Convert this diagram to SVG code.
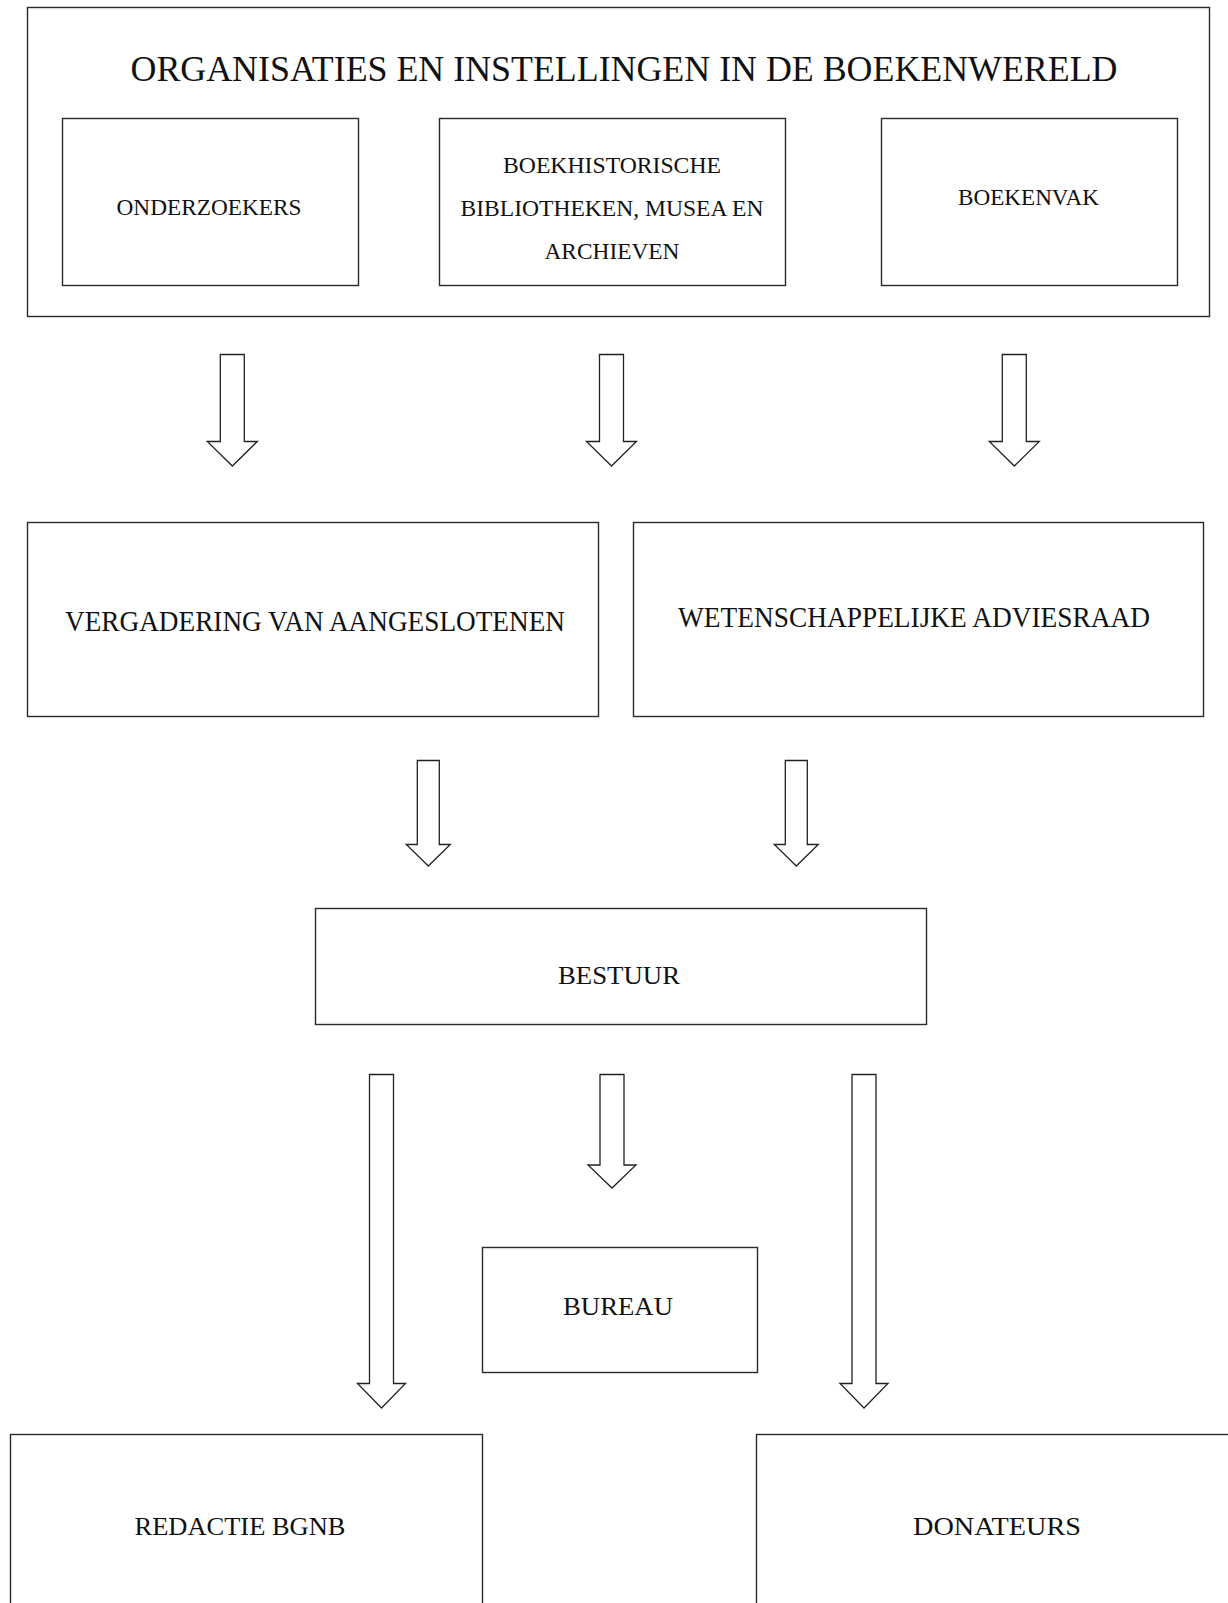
<svg xmlns="http://www.w3.org/2000/svg" width="1228" height="1603" viewBox="0 0 1228 1603">
<style>
.box{fill:#fff;stroke:#2a2a2a;stroke-width:1.4}
.arr{fill:#fff;stroke:#222;stroke-width:1.3;stroke-linejoin:miter}
text{font-family:"Liberation Serif","DejaVu Serif",serif;fill:#111;text-anchor:middle}
.t1{font-size:36px}
.t2{font-size:23px}
.t3{font-size:29px}
.t4{font-size:26px}
</style>
<rect width="1228" height="1603" fill="#fff"/>
<g id="organisaties">
<rect class="box" x="27.5" y="7.5" width="1182" height="309"/>
<text class="t1" x="624" y="81" textLength="987" lengthAdjust="spacingAndGlyphs">ORGANISATIES EN INSTELLINGEN IN DE BOEKENWERELD</text>
</g>
<g id="onderzoekers">
<rect class="box" x="62.5" y="118.5" width="296" height="167"/>
<text class="t2" x="209" y="215" textLength="185" lengthAdjust="spacingAndGlyphs">ONDERZOEKERS</text>
</g>
<g id="boekhistorische">
<rect class="box" x="439.5" y="118.5" width="346" height="167"/>
<text class="t2" x="612" y="172.5" textLength="218" lengthAdjust="spacingAndGlyphs">BOEKHISTORISCHE</text>
<text class="t2" x="612" y="215.5" textLength="303" lengthAdjust="spacingAndGlyphs">BIBLIOTHEKEN, MUSEA EN</text>
<text class="t2" x="612" y="259" textLength="135" lengthAdjust="spacingAndGlyphs">ARCHIEVEN</text>
</g>
<g id="boekenvak">
<rect class="box" x="881.5" y="118.5" width="296" height="167"/>
<text class="t2" x="1028.5" y="205" textLength="141" lengthAdjust="spacingAndGlyphs">BOEKENVAK</text>
</g>
<g id="vergadering">
<rect class="box" x="27.5" y="522.5" width="571" height="194"/>
<text class="t3" x="315" y="630.5" textLength="500" lengthAdjust="spacingAndGlyphs">VERGADERING VAN AANGESLOTENEN</text>
</g>
<g id="adviesraad">
<rect class="box" x="633.5" y="522.5" width="570" height="194"/>
<text class="t3" x="914" y="626.5" textLength="472" lengthAdjust="spacingAndGlyphs">WETENSCHAPPELIJKE ADVIESRAAD</text>
</g>
<g id="bestuur">
<rect class="box" x="315.5" y="908.5" width="611" height="116"/>
<text class="t4" x="619" y="984" textLength="122" lengthAdjust="spacingAndGlyphs">BESTUUR</text>
</g>
<g id="bureau">
<rect class="box" x="482.5" y="1247.5" width="275" height="125"/>
<text class="t4" x="618" y="1314.5" textLength="110" lengthAdjust="spacingAndGlyphs">BUREAU</text>
</g>
<g id="redactie">
<rect class="box" x="10.5" y="1434.5" width="472" height="260"/>
<text class="t4" x="240" y="1535" textLength="211" lengthAdjust="spacingAndGlyphs">REDACTIE BGNB</text>
</g>
<g id="donateurs">
<rect class="box" x="756.5" y="1434.5" width="520" height="260"/>
<text class="t4" x="997" y="1535" textLength="168" lengthAdjust="spacingAndGlyphs">DONATEURS</text>
</g>
<g id="connectors">
<path class="arr" d="M220.3 354.5H244.3V441.5H257.3L232.3 466L207.3 441.5H220.3Z"/>
<path class="arr" d="M599.5 354.5H623.5V441.5H636.5L611.5 466L586.5 441.5H599.5Z"/>
<path class="arr" d="M1002.3 354.5H1026.3V441.5H1039.3L1014.3 466L989.3 441.5H1002.3Z"/>
<path class="arr" d="M417.3 760.5H439.3V844.5H450.3L428.3 866L406.3 844.5H417.3Z"/>
<path class="arr" d="M785.3 760.5H807.3V844.5H818.3L796.3 866L774.3 844.5H785.3Z"/>
<path class="arr" d="M369.5 1074.5H393.5V1383.5H405.5L381.5 1408L357.5 1383.5H369.5Z"/>
<path class="arr" d="M600 1074.5H624V1165H636L612 1188L588 1165H600Z"/>
<path class="arr" d="M852 1074.5H876V1383.5H888L864 1408L840 1383.5H852Z"/>
</g>
</svg>
